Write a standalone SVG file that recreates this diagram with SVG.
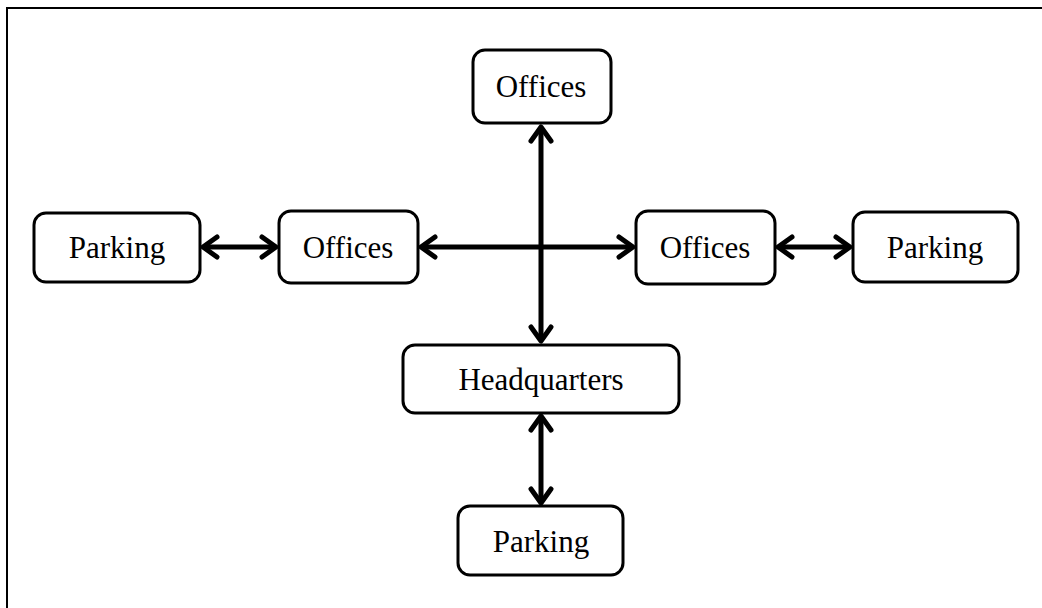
<svg xmlns="http://www.w3.org/2000/svg" width="1042" height="608" viewBox="0 0 1042 608">
<style>
.box{fill:#fff;stroke:#000;stroke-width:3}
.lbl{font-family:"Liberation Serif","Times New Roman",serif;font-size:31px;fill:#000;text-anchor:middle}
.con{stroke:#000;stroke-width:5;fill:none}
</style>
<defs>
<marker id="ah" viewBox="0 0 20 26" refX="17" refY="13" markerWidth="20" markerHeight="26" markerUnits="userSpaceOnUse" orient="auto-start-reverse">
<polyline points="3,3 17,13 3,23" fill="none" stroke="#000" stroke-width="5" stroke-linecap="round" stroke-linejoin="round"/>
</marker>
</defs>
<rect x="0" y="0" width="1042" height="608" fill="#fff"/>
<path d="M7,609 V8 H1043" fill="none" stroke="#000" stroke-width="2"/>
<g id="connectors">
<line class="con" x1="541" y1="127" x2="541" y2="341" marker-start="url(#ah)" marker-end="url(#ah)"/>
<line class="con" x1="421" y1="247" x2="633" y2="247" marker-start="url(#ah)" marker-end="url(#ah)"/>
<line class="con" x1="203" y1="247" x2="276" y2="247" marker-start="url(#ah)" marker-end="url(#ah)"/>
<line class="con" x1="778" y1="247" x2="850" y2="247" marker-start="url(#ah)" marker-end="url(#ah)"/>
<line class="con" x1="541" y1="416" x2="541" y2="503" marker-start="url(#ah)" marker-end="url(#ah)"/>
</g>
<g id="offices-top"><rect class="box" x="473" y="50" width="138" height="73" rx="12"/><text class="lbl" x="541" y="97">Offices</text></g>
<g id="parking-left"><rect class="box" x="34" y="213" width="166" height="69" rx="12"/><text class="lbl" x="117" y="258">Parking</text></g>
<g id="offices-left"><rect class="box" x="279" y="211" width="139" height="72" rx="12"/><text class="lbl" x="348" y="258">Offices</text></g>
<g id="offices-right"><rect class="box" x="636" y="211" width="139" height="73" rx="12"/><text class="lbl" x="705" y="258">Offices</text></g>
<g id="parking-right"><rect class="box" x="853" y="212" width="165" height="70" rx="12"/><text class="lbl" x="935" y="258">Parking</text></g>
<g id="headquarters"><rect class="box" x="403" y="345" width="276" height="68" rx="12"/><text class="lbl" x="541" y="390">Headquarters</text></g>
<g id="parking-bottom"><rect class="box" x="458" y="506" width="165" height="69" rx="12"/><text class="lbl" x="541" y="552">Parking</text></g>
</svg>
